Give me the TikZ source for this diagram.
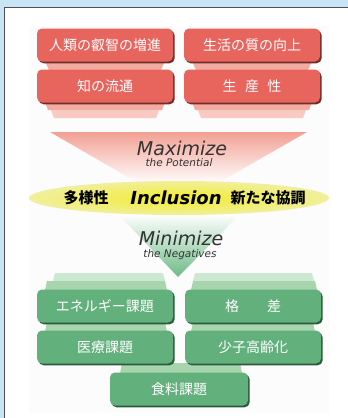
\documentclass[tikz,border=0pt]{standalone}
\usepackage{fontspec}
\newfontfamily\cjk{Noto Sans CJK JP}
\newfontfamily\dejavu{DejaVu Sans}
\usetikzlibrary{shadows}
\definecolor{skyblue}{HTML}{C8E4F5}
\definecolor{framegray}{HTML}{505058}
\definecolor{panel}{HTML}{FCFCFC}
\definecolor{redfill}{HTML}{E8655E}
\definecolor{redshadow}{HTML}{6E2E2A}
\definecolor{pinkA}{HTML}{F3ACA2}
\definecolor{pinkB}{HTML}{F8CAC1}
\definecolor{pinkTri}{HTML}{F2A093}
\definecolor{greenfill}{HTML}{62B07C}
\definecolor{greenshadow}{HTML}{2C5A3C}
\definecolor{greenA}{HTML}{A6D5AE}
\definecolor{greenB}{HTML}{CDE8D1}
\definecolor{greenTri}{HTML}{6DBA86}
\definecolor{ycen}{HTML}{F2EC2C}
\definecolor{yedge}{HTML}{F1EF9C}
\definecolor{textgray}{HTML}{333333}
\tikzset{
  boxbase/.style={rounded corners=5pt, minimum width=136pt, minimum height=33pt,
    inner sep=0pt, text=white, font=\cjk\fontsize{14}{14}\selectfont},
  redbox/.style={boxbase, fill=redfill,
    drop shadow={shadow xshift=1.6pt, shadow yshift=-1.8pt, fill=redshadow, opacity=1}},
  greenbox/.style={boxbase, fill=greenfill,
    drop shadow={shadow xshift=1.6pt, shadow yshift=-1.8pt, fill=greenshadow, opacity=1}},
  bigword/.style={font=\dejavu\itshape\fontsize{19}{19}\selectfont, text=textgray, inner sep=0pt},
  smallword/.style={font=\dejavu\itshape\fontsize{10.5}{10.5}\selectfont, text=textgray, inner sep=0pt},
  ellword/.style={font=\cjk\bfseries\fontsize{15}{15}\selectfont, text=black, inner sep=0pt}
}
\begin{document}
\begin{tikzpicture}[x=1pt,y=-1pt]
\useasboundingbox (0,0) rectangle (348,418);
% background and frame
\fill[skyblue] (0,0) rectangle (348,418);
\fill[white] (4.5,7.5) rectangle (349,419);
\draw[framegray, line width=1.2pt] (4.5,419) -- (4.5,7.5) -- (349,7.5);
\fill[panel] (29,26) rectangle (329,414);

% red layers
\fill[pinkA] (45,61) -- (165,61) -- (161,70) -- (49,70) -- cycle;
\fill[pinkA] (192,61) -- (312,61) -- (308,70) -- (196,70) -- cycle;
\fill[pinkA] (45,102) -- (165,102) -- (162,110) -- (48,110) -- cycle;
\fill[pinkA] (192,102) -- (312,102) -- (309,110) -- (195,110) -- cycle;
\fill[pinkB] (51,110) -- (159,110) -- (156,118) -- (54,118) -- cycle;
\fill[pinkB] (198,110) -- (306,110) -- (303,118) -- (201,118) -- cycle;

% red boxes
\node[redbox] (r1) at (105,45) {人類の叡智の増進};
\node[redbox] (r2) at (252,45) {生活の質の向上};
\node[redbox] (r3) at (105,86) {知の流通};
\node[redbox] (r4) at (252,86) {\spaceskip=0.6em 生 産 性};

% red funnel
\begin{scope}
\clip (50,132) -- (307,132) -- (178,206) -- cycle;
\shade[top color=pinkTri, bottom color=white] (50,132) rectangle (307,184);
\end{scope}
\node[bigword] (max) at (182,148) {Maximize};
\node[smallword] (maxs) at (179,163) {the Potential};

% green funnel
\begin{scope}
\clip (118,214) -- (240,214) -- (178,277) -- cycle;
\shade[top color=white, bottom color=greenTri] (118,214) rectangle (240,277);
\end{scope}

% ellipse
\shade[inner color=ycen, outer color=yedge] (179,198) ellipse [x radius=150, y radius=17];
\node[ellword] (e1) at (86,198) {多様性};
\node[font=\dejavu\bfseries\itshape\fontsize{18}{18}\selectfont, inner sep=0pt] (e2) at (176,198) {Inclusion};
\node[ellword] (e3) at (268,198) {新たな協調};

\node[bigword] (min) at (181,238) {Minimize};
\node[smallword] (mins) at (180,255) {the Negatives};

% green layers
\fill[greenB] (55,273) -- (163,273) -- (165,281) -- (53,281) -- cycle;
\fill[greenA] (47,281) -- (165,281) -- (167,290) -- (45,290) -- cycle;
\fill[greenB] (195,273) -- (312,273) -- (314,281) -- (193,281) -- cycle;
\fill[greenA] (193,281) -- (315,281) -- (317,290) -- (191,290) -- cycle;
\fill[greenA] (47,322) -- (165,322) -- (167,332) -- (45,332) -- cycle;
\fill[greenA] (193,322) -- (313,322) -- (315,332) -- (191,332) -- cycle;
\fill[greenA] (122,363) -- (240,363) -- (242,373) -- (120,373) -- cycle;

% green boxes
\node[greenbox] (g1) at (105,306) {エネルギー課題};
\node[greenbox] (g2) at (253,306) {格　　差};
\node[greenbox] (g3) at (105,347) {医療課題};
\node[greenbox] (g4) at (253,347) {少子高齢化};
\node[greenbox, minimum width=138pt] (g5) at (179,389) {食料課題};
\end{tikzpicture}
\end{document}
